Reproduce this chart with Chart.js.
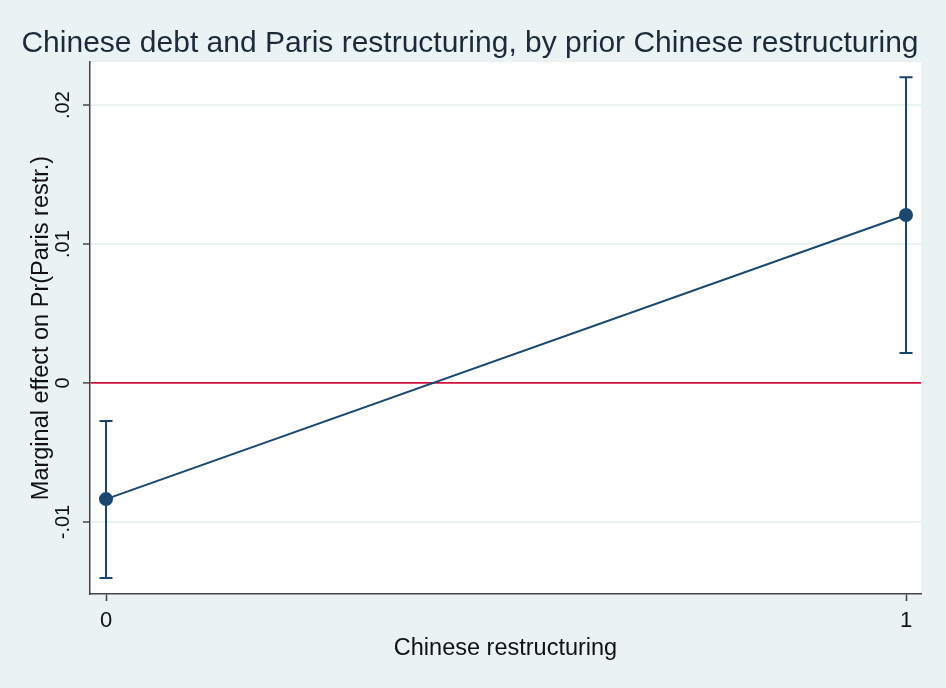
<!DOCTYPE html>
<html>
<head>
<meta charset="utf-8">
<script src="https://cdn.jsdelivr.net/npm/chart.js@4/dist/chart.umd.min.js"></script>
<style>
  html, body { margin: 0; padding: 0; background: #eaf2f3; }
  #wrap { width: 946px; height: 688px; }
</style>
</head>
<body>
<div id="wrap"><canvas id="chart" width="946" height="688"></canvas></div>
<script>
// values
const xValues = [0, 1];
const margEffect = [-0.00835, 0.01209];
const ciLower = [-0.01403, 0.00216];
const ciUpper = [-0.00273, 0.0220];
const yTicks = [-0.01, 0, 0.01, 0.02];
const xTicks = [0, 1];

const navy = "#1a476f";
const bgColor = "#eaf2f3";
const fontFam = "Liberation Sans, Arial, sans-serif";

function fmtTick(v) {
  if (v === 0) return "0";
  return v.toFixed(2).replace(/^(-?)0\./, "$1.");
}

// paints the outer background and the white plot region
const backgroundPlugin = {
  id: "bg",
  beforeDraw(chart) {
    const { ctx, chartArea } = chart;
    ctx.save();
    ctx.fillStyle = bgColor;
    ctx.fillRect(0, 0, chart.width, chart.height);
    ctx.fillStyle = "#ffffff";
    ctx.fillRect(chartArea.left, chartArea.top, chartArea.right - chartArea.left, chartArea.bottom - chartArea.top);
    ctx.restore();
  },
};

// confidence interval whiskers
const errorBarPlugin = {
  id: "errbars",
  afterDatasetsDraw(chart) {
    const { ctx, scales } = chart;
    ctx.save();
    ctx.strokeStyle = navy;
    ctx.lineWidth = 2;
    xValues.forEach((xv, i) => {
      const x = scales.x.getPixelForValue(xv);
      const yl = scales.y.getPixelForValue(ciLower[i]);
      const yu = scales.y.getPixelForValue(ciUpper[i]);
      ctx.beginPath();
      ctx.moveTo(x, yl);
      ctx.lineTo(x, yu);
      ctx.moveTo(x - 6.5, yl);
      ctx.lineTo(x + 6.5, yl);
      ctx.moveTo(x - 6.5, yu);
      ctx.lineTo(x + 6.5, yu);
      ctx.stroke();
    });
    ctx.restore();
  },
};

const ctx = document.getElementById("chart").getContext("2d");
new Chart(ctx, {
  type: "scatter",
  data: {
    datasets: [
      {
        data: xValues.map((x, i) => ({ x: x, y: margEffect[i] })),
        showLine: true,
        borderColor: navy,
        borderWidth: 2,
        backgroundColor: navy,
        pointRadius: 6,
        pointHoverRadius: 6,
      },
    ],
  },
  options: {
    responsive: false,
    animation: false,
    layout: { padding: { left: 19, right: 25, top: 0, bottom: 0 } },
    plugins: {
      legend: { display: false },
      tooltip: { enabled: false },
      title: {
        display: true,
        text: "Chinese debt and Paris restructuring, by prior Chinese restructuring",
        color: "#1c2b3a",
        font: { family: fontFam, size: 30, weight: "normal" },
        padding: { top: 26, bottom: 0 },
      },
    },
    scales: {
      x: {
        type: "linear",
        min: -0.02,
        max: 1.01875,
        afterBuildTicks: (scale) => {
          scale.ticks = xTicks.map((v) => ({ value: v }));
        },
        afterFit: (scale) => {
          scale.height = 94;
        },
        ticks: {
          color: "#111",
          font: { family: fontFam, size: 22 },
          padding: 7,
          callback: (v) => String(v),
        },
        grid: {
          drawOnChartArea: false,
          tickLength: 7,
          tickColor: "#444",
          tickWidth: 1.5,
        },
        border: { color: "#444", width: 1.5 },
        title: {
          display: true,
          text: "Chinese restructuring",
          color: "#111",
          font: { family: fontFam, size: 23.5 },
          padding: { top: 0, bottom: 25 },
        },
      },
      y: {
        type: "linear",
        min: -0.01518,
        max: 0.0231,
        afterBuildTicks: (scale) => {
          scale.ticks = yTicks.map((v) => ({ value: v }));
        },
        afterFit: (scale) => {
          scale.width = 71;
        },
        ticks: {
          color: "#111",
          font: { family: fontFam, size: 20 },
          minRotation: 90,
          maxRotation: 90,
          crossAlign: "center",
          padding: 2,
          callback: (v) => fmtTick(v),
        },
        grid: {
          color: (c) => (c.tick && c.tick.value === 0 ? "#d2103c" : bgColor),
          lineWidth: (c) => (c.tick && c.tick.value === 0 ? 1.8 : 2),
          tickLength: 7,
          tickColor: "#444",
          tickWidth: 1.5,
        },
        border: { color: "#444", width: 1.5 },
        title: {
          display: true,
          text: "Marginal effect on Pr(Paris restr.)",
          color: "#111",
          font: { family: fontFam, size: 23.5 },
          padding: { top: 8, bottom: 0 },
        },
      },
    },
  },
  plugins: [backgroundPlugin, errorBarPlugin],
});
</script>
</body>
</html>
